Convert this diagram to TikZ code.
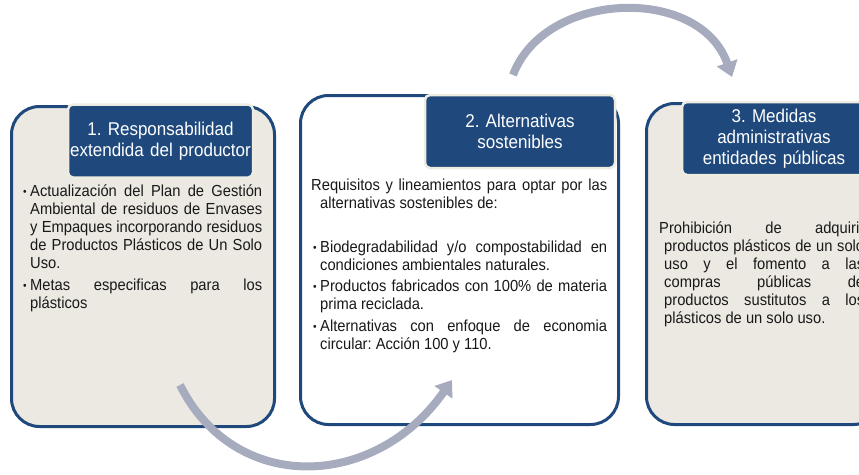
\documentclass[tikz,border=0pt]{standalone}
\usepackage{fontspec}
\setmainfont{Liberation Sans}[FakeStretch=0.92]
\usetikzlibrary{arrows.meta}
\definecolor{navy}{RGB}{31,73,125}
\definecolor{sand}{RGB}{236,233,226}
\definecolor{rim}{RGB}{238,236,225}
\definecolor{flowc}{RGB}{166,172,190}
\definecolor{ink}{RGB}{25,25,25}
\newcommand\bul{\hangindent=7pt\hangafter=1\noindent\makebox[7pt][l]{\raisebox{0.8pt}{\fontsize{11}{11}\selectfont\textbullet}}}

\begin{document}
\begin{tikzpicture}[x=1pt,y=-1pt,font=\fontsize{16}{18}\selectfont\frenchspacing,
  panel/.style={draw=navy,line width=3pt,rounded corners=28pt,anchor=north west,inner sep=0pt},
  head/.style={fill=navy,draw=rim,line width=2.5pt,rounded corners=5pt,text=white,align=center,
    minimum height=73pt,inner sep=0pt,font=\fontsize{18.5}{21}\selectfont\frenchspacing},
  body/.style={anchor=base west,align=justify,inner sep=0pt,text=ink},
  flow/.style={draw=flowc,line width=8pt,-{Triangle[width=21pt,length=15pt]}}]
  \useasboundingbox (0,0) rectangle (859,474); \clip (0,0) rectangle (859,474);
  % panels
  \node[panel,fill=sand,minimum width=263pt,minimum height=320pt] (p1) at (10,105) {};
  \node[panel,fill=white,minimum width=318pt,minimum height=329pt] (p2) at (299,94) {};
  \node[panel,fill=sand,minimum width=235pt,minimum height=321pt] (p3) at (645,102) {};
  \node[head,minimum width=185pt,text width=185pt] (h1) at (160.5,141) {1. Responsabilidad\\extendida del productor};
  \node[head,minimum width=190pt,text width=188pt] (h2) at (520,131.5) {2. Alternativas\\sostenibles};
  \node[head,minimum width=184pt,text width=182pt] (h3) at (774,138.5) {3. Medidas\\administrativas\\entidades públicas};
  % texts
  \node[body,text width=239pt] (b1) at (23,196) {\parskip=4pt%
    \bul Actualización del Plan de Gestión\linebreak Ambiental de residuos de Envases\linebreak
    y Empaques incorporando residuos\linebreak de Productos Plásticos de Un Solo\linebreak Uso.
    \par\bul Metas especificas para los\linebreak plásticos\par};
  \node[body,text width=296pt] (b2) at (311,190) {\hangindent=9pt\hangafter=1\noindent
    Requisitos y lineamientos para optar por las\linebreak alternativas sostenibles de:\par};
  \node[body,text width=294pt] (b2l) at (313,252) {\parskip=3.5pt%
    \bul Biodegradabilidad y/o compostabilidad en\linebreak condiciones ambientales naturales.
    \par\bul Productos fabricados con 100\% de materia\linebreak prima reciclada.
    \par\bul Alternativas con enfoque de economia\linebreak circular: Acción 100 y 110.\par};
  \node[body,text width=205pt] (b3) at (659,233) {\hangindent=5pt\hangafter=1\noindent
    Prohibición de adquirir\linebreak productos plásticos de un solo\linebreak uso y el fomento a las\linebreak
    compras públicas de\linebreak productos sustitutos a los\linebreak plásticos de un solo uso.\par};
  % arrows
  \coordinate (t0) at (513,75); \coordinate (t1) at (732,77);
  \coordinate (u0) at (180,385); \coordinate (u1) at (452,380);
  \draw[flow] (t0) .. controls (545,-10) and (700,-15) .. (t1);
  \draw[flow] (u0) .. controls (235,495) and (375,490) .. (u1);
\end{tikzpicture}
\end{document}
